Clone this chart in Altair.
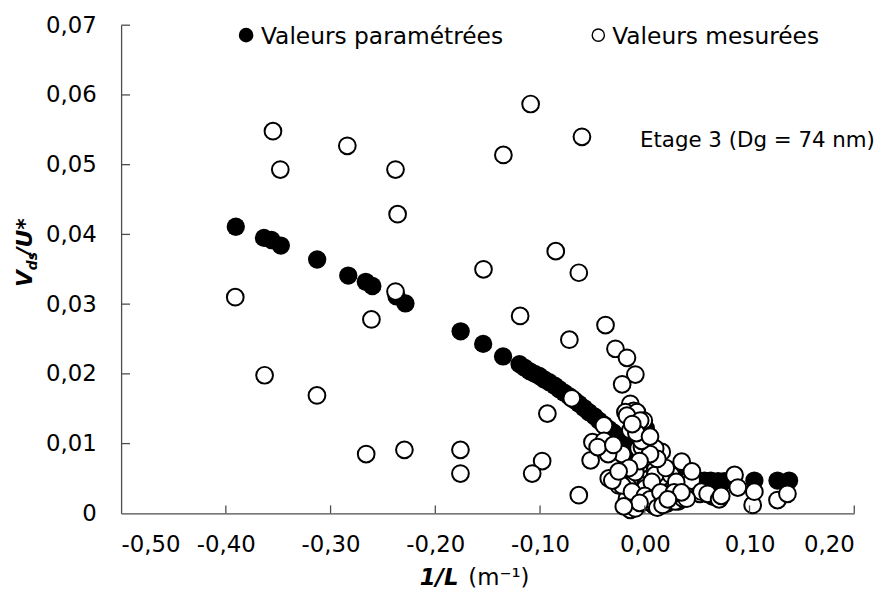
import altair as alt
import pandas as pd

# ---------------- data ----------------
param_x = [-0.3905, -0.3636, -0.3564, -0.3475, -0.3128, -0.2831, -0.2664, -0.2601,
           -0.2370, -0.2285, -0.1758, -0.1543, -0.1353, -0.1196, -0.1150, -0.1101,
           -0.1050, -0.1007, -0.0960, -0.0912, -0.0860, -0.0817, -0.0770, -0.0722,
           -0.0670, -0.0628, -0.0580, -0.0533, -0.0480, -0.0438, -0.0390, -0.0344,
           -0.0300, -0.0260, -0.0180, -0.0050, -0.0020, 0.0010, -0.0100, 0.0000,
           0.0100, 0.0200, 0.0300, 0.0400, 0.0500, 0.0570, 0.0630, 0.0700, 0.0760,
           0.1046, 0.1267, 0.1378]
param_y = [0.0411, 0.0395, 0.0392, 0.0384, 0.0364, 0.0341, 0.0332, 0.0326,
           0.0311, 0.0301, 0.0261, 0.0243, 0.0225, 0.0214, 0.0209, 0.0204,
           0.0200, 0.0197, 0.0192, 0.0188, 0.0183, 0.0178, 0.0173, 0.0168,
           0.0162, 0.0157, 0.0151, 0.0145, 0.0139, 0.0133, 0.0127, 0.0121,
           0.0116, 0.0110, 0.0100, 0.0118, 0.0112, 0.0122, 0.0088, 0.0075,
           0.0066, 0.0058, 0.0053, 0.0050, 0.0048, 0.0047, 0.0047, 0.0046, 0.0046,
           0.0047, 0.0047, 0.0047]

mes_x = [-0.355, -0.348, -0.284, -0.238, -0.236, -0.109, -0.135, -0.060,
         -0.154, -0.085, -0.063, -0.119, -0.0375, -0.072, -0.238, -0.261,
         -0.391, -0.363, -0.313, -0.266, -0.2295, -0.176, -0.176, -0.098,
         -0.1075, -0.063, -0.093, -0.0697,
         -0.028, -0.017, -0.009, -0.0216, -0.0138, -0.0106, -0.0185, -0.0075,
         -0.001, -0.017, -0.0044, -0.0138, -0.039, -0.050, -0.039, -0.0517,
         -0.0216, -0.0027, 0.0162, 0.0352, -0.0344, -0.0169, 0.0162, 0.0414,
         0.0525, 0.0651, -0.0154, 0.0067, 0.0099, 0.021, 0.032, 0.0004,
         0.0067, -0.0138, -0.0059, 0.0099, 0.0241, -0.0249, -0.009, 0.0099,
         -0.017, 0.0004, -0.009, 0.0194, 0.029, 0.0367, 0.0004, -0.0216,
         -0.031, 0.0067, 0.0257, -0.0122, 0.0162, -0.0027, 0.0099,
         0.0447, 0.0541, 0.0667, 0.0857, 0.0888, 0.103, 0.1046, 0.1267,
         0.1362, 0.040,
         0.025, 0.030, 0.045, 0.020, 0.012, 0.005, -0.005, -0.015,
         -0.025, -0.035, 0.000, 0.005, 0.015, 0.028, 0.035, 0.060,
         0.071, 0.073, -0.005, 0.012, 0.017, 0.022, -0.020, -0.003,
         -0.008, -0.012, 0.005, -0.045, -0.030]
mes_y = [0.0548, 0.0493, 0.0527, 0.0493, 0.0429, 0.0587, 0.0514, 0.0540,
         0.0350, 0.0376, 0.0345, 0.0283, 0.0270, 0.0249, 0.0318, 0.0278,
         0.0310, 0.0198, 0.0169, 0.0085, 0.0091, 0.0091, 0.0057, 0.0075,
         0.0057, 0.0026, 0.0143, 0.0165,
         0.0236, 0.0223, 0.0199, 0.0185, 0.0157, 0.0147, 0.0145, 0.0145,
         0.0133, 0.0140, 0.0133, 0.0119, 0.0126, 0.0102, 0.0104, 0.0076,
         0.0085, 0.0071, 0.0088, 0.0074, 0.0050, 0.0040, 0.0052, 0.0047,
         0.0028, 0.0024, 0.0019, 0.0014, 0.0010, 0.0014, 0.0017, 0.0040,
         0.0031, 0.0005, 0.0093, 0.0062, 0.0028, 0.0040, 0.0059, 0.0055,
         0.0021, 0.0017, 0.0007, 0.0014, 0.0017, 0.0021, 0.0036, 0.0040,
         0.0047, 0.0045, 0.0026, 0.0031, 0.0026, 0.0095, 0.0093,
         0.0047, 0.0031, 0.0024, 0.0055, 0.0037, 0.0012, 0.0031, 0.0019,
         0.0028, 0.0021,
         0.0055, 0.0045, 0.0060, 0.0065, 0.0078, 0.0085, 0.0075, 0.0065,
         0.0060, 0.0085, 0.0025, 0.0020, 0.0030, 0.0030, 0.0030, 0.0028,
         0.0020, 0.0025, 0.0015, 0.0008, 0.0012, 0.0020, 0.0010, 0.0104,
         0.0115, 0.0128, 0.0110, 0.0095, 0.0098]

x_ticks = [-0.5, -0.4, -0.3, -0.2, -0.1, 0.0, 0.1, 0.2]
y_ticks = [0.0, 0.01, 0.02, 0.03, 0.04, 0.05, 0.06, 0.07]

legend_labels = ["Valeurs paramétrées", "Valeurs mesurées"]
annotation = "Etage 3 (Dg = 74 nm)"

# ---------------- chart ----------------
FONT = "DejaVu Sans"
AX = "#4d4d4d"
W, H = 739, 492

df_p = pd.DataFrame({"x": param_x, "y": param_y})
df_m = pd.DataFrame({"x": mes_x, "y": mes_y})

xscale = alt.Scale(domain=[-0.5, 0.2], nice=False, zero=False)
yscale = alt.Scale(domain=[0, 0.07], nice=False, zero=False)

xaxis = alt.Axis(values=x_ticks, title=None, grid=False, ticks=False, tickSize=0,
                 labelPadding=20, labelFontSize=23, labelFont=FONT, labelColor="black",
                 domainColor=AX, domainWidth=1.3,
                 labelExpr="replace(replace(format(datum.value, '.2f'), '.', ','), '\u2212', '-')")
yaxis = alt.Axis(values=y_ticks, title=None, grid=False, ticks=False, tickSize=0,
                 labelPadding=25, labelFontSize=23, labelFont=FONT, labelColor="black",
                 domainColor=AX, domainWidth=1.3,
                 labelExpr="datum.value == 0 ? '0' : replace(format(datum.value, '.2f'), '.', ',')")

black = alt.Chart(df_p).mark_circle(size=340, color="black", opacity=1).encode(
    x=alt.X("x:Q", scale=xscale, axis=xaxis),
    y=alt.Y("y:Q", scale=yscale, axis=yaxis),
)
white = alt.Chart(df_m).mark_circle(size=285, fill="white", stroke="black",
                                    strokeWidth=2, opacity=1).encode(
    x=alt.X("x:Q", scale=xscale),
    y=alt.Y("y:Q", scale=yscale),
)

xt = alt.Chart(pd.DataFrame({"v": x_ticks[1:]})).mark_rule(color=AX, strokeWidth=1.3).encode(
    x=alt.X("v:Q", scale=xscale), y=alt.value(H), y2=alt.value(H - 8))
yt = alt.Chart(pd.DataFrame({"v": y_ticks[1:]})).mark_rule(color=AX, strokeWidth=1.3).encode(
    y=alt.Y("v:Q", scale=yscale), x=alt.value(0), x2=alt.value(9))

one = pd.DataFrame({"a": [0]})

def txt(s, x, y, size=23, weight="normal", style="normal", angle=0, align="left"):
    return alt.Chart(one).mark_text(text=s, font=FONT, fontSize=size, fontWeight=weight,
                                    fontStyle=style, angle=angle, align=align,
                                    baseline="alphabetic", color="black").encode(
        x=alt.value(x), y=alt.value(y))

leg1_sym = alt.Chart(one).mark_circle(size=218, color="black", opacity=1).encode(
    x=alt.value(126), y=alt.value(10))
leg2_sym = alt.Chart(one).mark_circle(size=150, fill="white", stroke="black",
                                      strokeWidth=1.4, opacity=1).encode(
    x=alt.value(481), y=alt.value(10))
leg1_txt = txt(legend_labels[0], 141, 19, size=23.5)
leg2_txt = txt(legend_labels[1], 495, 19, size=23.5)
ann = txt(annotation, 523, 123, size=21.5)

# axis titles
xt1 = txt("1/L", 301, 564, weight="bold", style="italic")
xt2 = txt("(m\u207b\u00b9)", 350, 564)
yt1 = txt("V", -90, 264, size=22, weight="bold", style="italic", angle=270)
yt2 = txt("ds", -85, 247, size=14, weight="bold", style="italic", angle=270)
yt3 = txt("/U*", -90, 232, size=22, weight="bold", style="italic", angle=270)

chart = alt.layer(
    black, white, xt, yt, leg1_sym, leg2_sym, leg1_txt, leg2_txt, ann,
    xt1, xt2, yt1, yt2, yt3
).properties(
    width=W, height=H,
    autosize=alt.AutoSizeParams(type="none"),
    padding={"left": 114, "top": 15, "right": 33, "bottom": 82},
).configure_view(strokeWidth=0)

chart.save("out.html", embed_options={"renderer": "svg", "actions": False})
